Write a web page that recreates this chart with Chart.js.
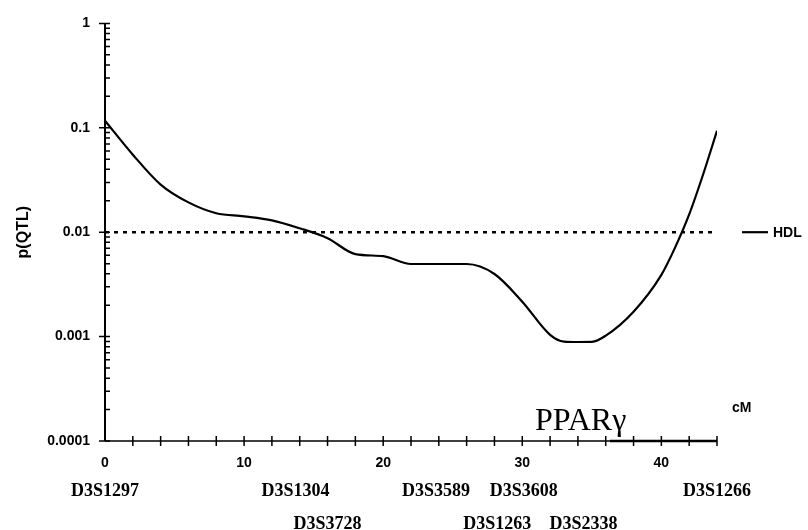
<!DOCTYPE html>
<html>
<head>
<meta charset="utf-8">
<script src="https://cdn.jsdelivr.net/npm/chart.js@4.4.0/dist/chart.umd.min.js"></script>
<style>
  body { margin: 0; background: #fff; }
</style>
</head>
<body>
<canvas id="chart" width="808" height="530"></canvas>
<script>
// position along the chromosome (cM) and QTL p-value
const cM = [0, 2, 4, 6, 8, 10, 12, 14, 16, 18, 20, 22, 24, 26, 28, 30, 32, 33, 34, 35, 36, 38, 40, 41, 42, 43, 44];
const pQTL = [0.117, 0.0553, 0.0286, 0.0193, 0.0152, 0.0142, 0.0130, 0.0109, 0.00877, 0.00617, 0.0059,
  0.00496, 0.00496, 0.00496, 0.00398, 0.00216, 0.00104, 0.000896, 0.000888, 0.00089, 0.00102,
  0.00173, 0.0039, 0.00719, 0.0148, 0.0357, 0.0936];
const threshold = 0.01;

const xTickValues = [0, 10, 20, 30, 40];
const yTickValues = [0.0001, 0.001, 0.01, 0.1, 1];
const yTickLabels = ['0.0001', '0.001', '0.01', '0.1', '1'];

// microsatellite markers: name, cM position, label row
const markerNames = ['D3S1297', 'D3S1304', 'D3S3728', 'D3S3589', 'D3S1263', 'D3S3608', 'D3S2338', 'D3S1266'];
const markerPos = [0, 13.7, 16, 23.8, 28.2, 30.1, 34.4, 44];
const markerRow = [0, 0, 1, 0, 1, 0, 1, 0];

const geneName = 'PPARγ';
const genePos = 34.2;
const geneRegion = [36.3, 44];

const tickFont = { family: 'Liberation Sans', size: 14, weight: 'bold' };

const overlay = {
  id: 'overlay',
  afterDraw(chart) {
    const { ctx, chartArea: a, scales: { x, y } } = chart;
    ctx.save();
    ctx.strokeStyle = '#000';
    ctx.fillStyle = '#000';

    // y axis and ticks
    ctx.lineWidth = 2;
    ctx.beginPath();
    ctx.moveTo(a.left, a.top);
    ctx.lineTo(a.left, a.bottom);
    ctx.stroke();
    ctx.lineWidth = 1.5;
    ctx.beginPath();
    yTickValues.forEach((d, i) => {
      const py = y.getPixelForValue(d);
      ctx.moveTo(a.left - 6, py);
      ctx.lineTo(a.left + 5, py);
      if (i < yTickValues.length - 1) {
        for (let k = 2; k <= 9; k++) {
          const my = y.getPixelForValue(k * d);
          ctx.moveTo(a.left, my);
          ctx.lineTo(a.left + 5, my);
        }
      }
    });
    ctx.stroke();

    // x axis and ticks every 2 cM
    ctx.lineWidth = 1.5;
    ctx.beginPath();
    ctx.moveTo(a.left, a.bottom);
    ctx.lineTo(a.right, a.bottom);
    for (let v = 2; v <= 44; v += 2) {
      const px = x.getPixelForValue(v);
      ctx.moveTo(px, a.bottom - 5);
      ctx.lineTo(px, a.bottom + 5);
    }
    ctx.stroke();
    ctx.lineWidth = 2.5;
    ctx.beginPath();
    ctx.moveTo(x.getPixelForValue(geneRegion[0]), a.bottom);
    ctx.lineTo(x.getPixelForValue(geneRegion[1]), a.bottom);
    ctx.stroke();

    // legend
    const ly = y.getPixelForValue(threshold);
    ctx.lineWidth = 2.2;
    ctx.beginPath();
    ctx.moveTo(742, ly);
    ctx.lineTo(768, ly);
    ctx.stroke();
    ctx.font = 'bold 14px "Liberation Sans"';
    ctx.textAlign = 'left';
    ctx.textBaseline = 'middle';
    ctx.fillText('HDL', 773, ly + 1);

    // axis titles
    ctx.fillText('cM', 732, 408);
    ctx.save();
    ctx.font = 'bold 16px "Liberation Sans"';
    ctx.translate(24, (a.top + a.bottom) / 2);
    ctx.rotate(-Math.PI / 2);
    ctx.textAlign = 'center';
    ctx.fillText('p(QTL)', 0, 0);
    ctx.restore();

    // gene label
    ctx.font = '32px "Liberation Serif"';
    ctx.textAlign = 'center';
    ctx.textBaseline = 'alphabetic';
    ctx.fillText(geneName, x.getPixelForValue(genePos), a.bottom - 11);

    // marker labels
    ctx.font = 'bold 18px "Liberation Serif"';
    ctx.textBaseline = 'middle';
    markerNames.forEach((name, i) => {
      const px = x.getPixelForValue(markerPos[i]);
      ctx.fillText(name, px, a.bottom + 50 + markerRow[i] * 33);
    });
    ctx.restore();
  }
};

new Chart(document.getElementById('chart').getContext('2d'), {
  type: 'line',
  data: {
    datasets: [
      {
        label: 'HDL',
        data: cM.map((v, i) => ({ x: v, y: pQTL[i] })),
        borderColor: '#000',
        borderWidth: 2.2,
        pointRadius: 0,
        fill: false,
        cubicInterpolationMode: 'monotone',
      },
      {
        label: 'threshold',
        data: [{ x: 0, y: threshold }, { x: 44, y: threshold }],
        borderColor: '#000',
        borderWidth: 2.5,
        borderDash: [4, 5],
        pointRadius: 0,
        fill: false,
      },
    ],
  },
  options: {
    responsive: false,
    animation: false,
    layout: { padding: { top: 20, right: 91, left: 0, bottom: 0 } },
    plugins: { legend: { display: false }, tooltip: { enabled: false } },
    scales: {
      x: {
        type: 'linear',
        min: 0,
        max: 44,
        grid: { display: false, drawTicks: false },
        border: { display: false },
        ticks: { color: '#000', font: tickFont, padding: 14, maxRotation: 0 },
        afterBuildTicks: (s) => { s.ticks = xTickValues.map((v) => ({ value: v })); },
        afterFit: (s) => { s.height = 89; },
      },
      y: {
        type: 'logarithmic',
        min: 0.0001,
        max: 1,
        grid: { display: false, drawTicks: false },
        border: { display: false },
        ticks: {
          color: '#000',
          font: tickFont,
          padding: 15,
          autoSkip: false,
          callback: (value, i) => yTickLabels[i],
        },
        afterBuildTicks: (s) => { s.ticks = yTickValues.map((v) => ({ value: v })); },
        afterFit: (s) => { s.width = 105; },
      },
    },
  },
  plugins: [overlay],
});
</script>
</body>
</html>
